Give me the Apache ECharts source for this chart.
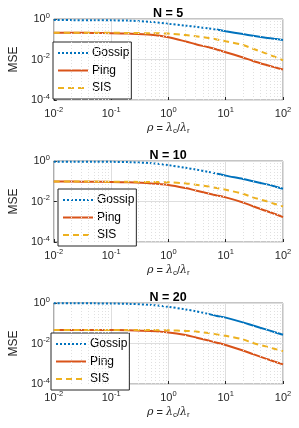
<!DOCTYPE html>
<html><head><meta charset="utf-8">
<script src="https://cdn.jsdelivr.net/npm/echarts@6/dist/echarts.min.js"></script>
<style>html,body{margin:0;padding:0;background:#fff}#c{width:299px;height:428px}</style>
</head><body><div id="c"></div>
<script>
const rho = [0.01,0.02,0.05,0.1,0.2,0.5,1,2,3,5,7,10,20,30,50,70,100];
const titles = ['N = 5','N = 10','N = 20'];
const gossip = [
  [0.88,0.88,0.87,0.86,0.83,0.72,0.58,0.47,0.41,0.34,0.30,0.25,0.18,0.15,0.12,0.105,0.093],
  [0.93,0.93,0.92,0.91,0.88,0.78,0.62,0.46,0.38,0.29,0.24,0.19,0.13,0.10,0.072,0.057,0.043],
  [0.97,0.97,0.96,0.94,0.91,0.80,0.65,0.48,0.39,0.29,0.23,0.19,0.11,0.077,0.05,0.037,0.027]
];
const ping = [
  [0.21,0.21,0.205,0.20,0.19,0.165,0.125,0.078,0.057,0.040,0.031,0.023,0.0125,0.0085,0.0055,0.0042,0.0032],
  [0.096,0.096,0.094,0.092,0.088,0.078,0.066,0.046,0.035,0.025,0.020,0.016,0.009,0.0058,0.0035,0.0025,0.0017],
  [0.047,0.047,0.047,0.046,0.045,0.041,0.035,0.026,0.020,0.014,0.011,0.0085,0.0045,0.0030,0.0018,0.0013,0.00093]
];
const sis = [
  [0.21,0.21,0.21,0.208,0.205,0.198,0.19,0.16,0.14,0.115,0.098,0.08,0.052,0.034,0.02,0.014,0.009],
  [0.096,0.096,0.096,0.095,0.094,0.092,0.089,0.078,0.068,0.055,0.046,0.038,0.024,0.016,0.0105,0.0078,0.0057],
  [0.047,0.047,0.047,0.047,0.046,0.046,0.045,0.042,0.039,0.033,0.028,0.024,0.016,0.0105,0.0072,0.0055,0.0042]
];
const gossipSolidFrom = [7,7,5];
const legendNames = ['Gossip','Ping','SIS'];
// x-axis minor grid positions (2..9 x 10^n)
const minorGridX = [];
[0.01,0.1,1,10].forEach(d=>{for(let k=2;k<=9;k++) minorGridX.push(+(k*d).toPrecision(3));});

const C = {g:'#0072BD', p:'#D95319', s:'#EDB120', ax:'#262626'};
const tops = [19,161,303];
const H = 81;
const legendPos = [{left:53,top:42},{left:58,top:189},{left:51,top:333}];

function pow10Label(v){
  const e = Math.round(Math.log10(v));
  return '{b|10}{s|' + e + '}';
}
const rich = {
  b:{fontSize:11,color:C.ax,fontFamily:'Liberation Sans'},
  s:{fontSize:7.5,color:C.ax,fontFamily:'Liberation Sans',padding:[0,0,7,0]}
};

const grid=[],xAxis=[],yAxis=[],series=[],title=[],legend=[];
for(let i=0;i<3;i++){
  grid.push({left:43,right:16,top:tops[i],height:H,show:true,borderColor:'#8a8a8a',borderWidth:1,backgroundColor:'#fff'});
  title.push({text:titles[i],left:163,top:tops[i]-17,textAlign:'center',
    textStyle:{fontSize:12.5,fontWeight:'bold',color:'#000',fontFamily:'Liberation Sans'}});
  xAxis.push({type:'log',gridIndex:i,min:0.01,max:100,logBase:10,
    axisLine:{show:false},
    axisTick:{show:true,inside:true,length:3,lineStyle:{color:C.ax}},
    splitLine:{show:true,lineStyle:{color:'#dedede',width:1}},
    axisLabel:{formatter:pow10Label,rich:rich,margin:6},
    name:'{i|ρ} = {i|λ}{u|c}/{i|λ}{u|r}',nameLocation:'middle',nameGap:22,
    nameTextStyle:{color:C.ax,fontSize:11,fontFamily:'Liberation Sans',
      rich:{i:{fontSize:11,fontStyle:'italic',color:C.ax,fontFamily:'DejaVu Serif'},
            u:{fontSize:8,color:C.ax,fontFamily:'Liberation Sans',padding:[5,0,0,0]}}}
  });
  yAxis.push({type:'log',gridIndex:i,min:1e-4,max:1,logBase:10,interval:2,
    axisLine:{show:false},
    axisTick:{show:true,inside:true,length:3,lineStyle:{color:C.ax}},
    splitLine:{show:true,lineStyle:{color:'#dedede',width:1}},
    axisLabel:{formatter:pow10Label,rich:rich,margin:4},
    name:'MSE',nameLocation:'middle',nameRotate:90,nameGap:27,
    nameTextStyle:{color:C.ax,fontSize:12,fontFamily:'Liberation Sans'}
  });
  const pts = arr => rho.map((x,k)=>[x,arr[k]]);
  const gp = pts(gossip[i]);
  const base = {type:'line',xAxisIndex:i,yAxisIndex:i,symbol:'none',smooth:0.3,silent:true,animation:false};
  // minor grid (dotted) as mark lines on an empty helper series
  series.push({type:'line',xAxisIndex:i,yAxisIndex:i,data:[],silent:true,animation:false,
    markLine:{silent:true,symbol:'none',label:{show:false},animation:false,
      lineStyle:{color:'#e0e0e0',type:[1,2],width:1},
      data:minorGridX.map(v=>({xAxis:v}))}});
  series.push(Object.assign({},base,{name:'Gossip',data:gp.filter(p=>p[0]<=gossipSolidFrom[i]),
    lineStyle:{color:C.g,width:2,type:[2,2]},itemStyle:{color:C.g}}));
  series.push(Object.assign({},base,{name:'Gossip',data:gp.filter(p=>p[0]>=gossipSolidFrom[i]),
    lineStyle:{color:C.g,width:2,type:'solid'},itemStyle:{color:C.g}}));
  series.push(Object.assign({},base,{name:'Ping',data:pts(ping[i]),
    lineStyle:{color:C.p,width:2},itemStyle:{color:C.p}}));
  series.push(Object.assign({},base,{name:'SIS',data:pts(sis[i]),
    lineStyle:{color:C.s,width:2,type:[6,4]},itemStyle:{color:C.s}}));
  legend.push(Object.assign({data:legendNames,orient:'vertical',itemWidth:30,itemHeight:10,itemGap:5.5,
    backgroundColor:'#fff',borderColor:C.ax,borderWidth:1,borderRadius:0,padding:[5,2,5,4],
    selectedMode:false,itemStyle:{opacity:0},
    textStyle:{fontSize:12,color:'#000',fontFamily:'Liberation Sans',padding:[0,0,0,-1]}},legendPos[i]));
}
const chart = echarts.init(document.getElementById('c'),null,{renderer:'canvas'});
chart.setOption({backgroundColor:'#fff',animation:false,title,grid,xAxis,yAxis,series,legend});
</script></body></html>
